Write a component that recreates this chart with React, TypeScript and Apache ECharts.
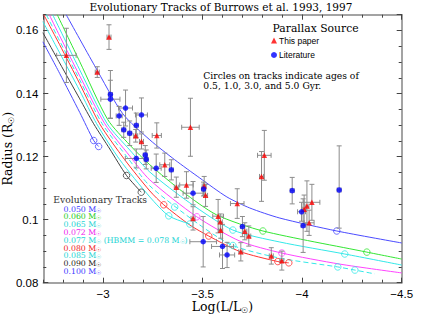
import React, { useEffect, useRef } from "react";
import * as echarts from "echarts";

// ---------- data ----------
const trackMasses = ["0.050", "0.060", "0.065", "0.072", "0.077", "0.080", "0.085", "0.090", "0.100"];

// [log(L/Lsun), R/Rsun]
const track050 = [[-2.815, 0.165], [-2.958, 0.1488], [-3.099, 0.1336], [-3.235, 0.1253], [-3.36, 0.119], [-3.486, 0.1132], [-3.622, 0.1072], [-3.737, 0.1037], [-3.888, 0.1005], [-4.174, 0.0964], [-4.5, 0.0926]];
const track060 = [[-2.77, 0.165], [-2.883, 0.1501], [-3.024, 0.1317], [-3.134, 0.1237], [-3.235, 0.1174], [-3.401, 0.1088], [-3.571, 0.1015], [-3.803, 0.0964], [-4.325, 0.0897], [-4.5, 0.0875]];
const track065 = [[-2.747, 0.165], [-2.782, 0.1605], [-2.883, 0.1475], [-3.021, 0.1304], [-3.134, 0.1221], [-3.235, 0.1151], [-3.436, 0.1053], [-3.652, 0.0967], [-3.888, 0.0929], [-4.214, 0.0891], [-4.5, 0.0856]];
const track072 = [[-2.73, 0.165], [-2.782, 0.1583], [-2.883, 0.1456], [-3.009, 0.1304], [-3.134, 0.1202], [-3.235, 0.1126], [-3.471, 0.1009], [-3.687, 0.0932], [-3.898, 0.0894], [-4.189, 0.0859], [-4.5, 0.0831]];
const track077 = [[-2.715, 0.165], [-2.782, 0.1567], [-2.883, 0.1443], [-2.996, 0.1304], [-3.124, 0.1196], [-3.235, 0.1107], [-3.486, 0.0983], [-3.652, 0.0918], [-3.888, 0.0878], [-4.179, 0.085], [-4.265, 0.084], [-4.365, 0.0828]];
const track080 = [[-2.702, 0.165], [-2.782, 0.1555], [-2.883, 0.1431], [-2.983, 0.1304], [-3.109, 0.119], [-3.235, 0.1091], [-3.305, 0.1047], [-3.436, 0.0983], [-3.531, 0.0948], [-3.687, 0.0899], [-3.878, 0.0867], [-3.933, 0.0863]];
const track085 = [[-2.698, 0.1628], [-2.782, 0.1529], [-2.883, 0.1409], [-2.968, 0.1304], [-3.084, 0.119], [-3.235, 0.1072], [-3.33, 0.1012], [-3.436, 0.0986]];
const track090 = [[-2.698, 0.1593], [-2.782, 0.1497], [-2.883, 0.1383], [-2.953, 0.1304], [-3.034, 0.1224], [-3.118, 0.114], [-3.192, 0.1087]];
const track100 = [[-2.698, 0.1564], [-2.782, 0.1464], [-2.883, 0.134], [-2.953, 0.1251], [-2.978, 0.1232]];

// age markers (0.5, 1.0, 3.0, 5.0 Gyr) on each track
const ages050 = [[-4.174, 0.0964]];
const ages060 = [[-3.803, 0.0964], [-4.325, 0.0897]];
const ages065 = [[-3.652, 0.0967], [-4.214, 0.0891]];
const ages072 = [[-3.471, 0.1009], [-3.898, 0.0894]];
const ages077 = [[-3.36, 0.104], [-3.652, 0.0918], [-4.179, 0.085], [-4.265, 0.084]];
const ages080 = [[-3.305, 0.1047], [-3.531, 0.0948], [-3.878, 0.0867], [-3.933, 0.0863]];
const ages085 = [[-3.33, 0.1012], [-3.436, 0.0986]];
const ages090 = [[-3.118, 0.114], [-3.192, 0.1087]];
const ages100 = [[-2.953, 0.1251], [-2.978, 0.1232]];

// [logL, R, dlogL, dR(low), dR(high, optional)]
const paperPoints = [
  [-2.816, 0.1521, 0.049, 0.0086],
  [-3.03, 0.1579, 0.01, 0.0039],
  [-2.971, 0.1468, 0.01, 0.0017],
  [-3.164, 0.1266, 0.01, 0.002],
  [-3.193, 0.1248, 0.01, 0.0024],
  [-3.27, 0.1267, 0.023, 0.004],
  [-3.31, 0.1174, 0.025, 0.0037],
  [-3.368, 0.1103, 0.01, 0.0032],
  [-3.419, 0.111, 0.034, 0.0042],
  [-3.439, 0.1293, 0.044, 0.0092],
  [-3.508, 0.1107, 0.01, 0.003],
  [-3.515, 0.1077, 0.01, 0.0035],
  [-3.452, 0.1004, 0.01, 0.0037],
  [-3.578, 0.1011, 0.027, 0.0053],
  [-3.589, 0.0993, 0.01, 0.0025],
  [-3.591, 0.0966, 0.01, 0.0025],
  [-3.674, 0.1051, 0.034, 0.0047],
  [-3.712, 0.0963, 0.01, 0.0027],
  [-3.732, 0.0948, 0.01, 0.0032],
  [-3.692, 0.0898, 0.01, 0.0029],
  [-3.81, 0.1204, 0.034, 0.0079],
  [-3.796, 0.1137, 0.01, 0.0079],
  [-3.845, 0.0885, 0.01, 0.0026],
  [-3.898, 0.087, 0.01, 0.003],
  [-4.049, 0.1055, 0.04, 0.0057],
  [-4.024, 0.1043, 0.01, 0.008],
  [-4.01, 0.1033, 0.01, 0.0045],
  [-4.035, 0.099, 0.025, 0.004],
];

const literaturePoints = [
  [-3.037, 0.1397, 0.01, 0.0076],
  [-3.037, 0.1382, 0.048, 0.006],
  [-3.113, 0.1354, 0.035, 0.0057],
  [-3.081, 0.1329, 0.015, 0.003],
  [-3.193, 0.1332, 0.03, 0.0054],
  [-3.104, 0.1285, 0.01, 0.0024],
  [-3.134, 0.1274, 0.01, 0.0039],
  [-3.167, 0.1299, 0.01, 0.0039],
  [-3.167, 0.1194, 0.055, 0.003],
  [-3.212, 0.1205, 0.01, 0.003],
  [-3.217, 0.1191, 0.01, 0.003],
  [-3.267, 0.1163, 0.025, 0.0045],
  [-3.343, 0.1158, 0.01, 0.0032],
  [-3.452, 0.1084, 0.05, 0.0037],
  [-3.505, 0.1097, 0.01, 0.0022],
  [-3.503, 0.093, 0.067, 0.008],
  [-3.6, 0.0915, 0.055, 0.007],
  [-3.623, 0.0888, 0.038, 0.004],
  [-3.7, 0.0978, 0.01, 0.0032],
  [-3.95, 0.1092, 0.01, 0.0042],
  [-4.186, 0.1094, 0.01, 0.0121, 0.014],
  [-3.997, 0.1025, 0.02, 0.003],
  [-4.005, 0.0981, 0.01, 0.0085],
];

const tracks = [track050, track060, track065, track072, track077, track080, track085, track090, track100];
const ages = [ages050, ages060, ages065, ages072, ages077, ages080, ages085, ages090, ages100];

// ---------- styles ----------
const SERIF = "'DejaVu Serif', 'Liberation Serif', serif";
const SANS = "'Liberation Sans', Arial, sans-serif";
const TRACK_COLORS = ["#4b4bff", "#33e633", "#33e8e8", "#ff44ff", "#33e8e8", "#ff3030", "#33e8e8", "#404040", "#4b4bff"];
const LABEL_COLORS = ["#3b3bff", "#22cc22", "#22d4d4", "#ee22ee", "#22d4d4", "#ee2222", "#22d4d4", "#222222", "#3b3bff"];
const ERR_COLOR = "#8c8c8c";

function errorBars(pts: number[][]) {
  return {
    type: "custom",
    silent: true,
    z: 3,
    clip: true,
    data: pts.map((p) => [p[0], p[1], p[2], p[3], p.length > 4 ? p[4] : p[3]]),
    encode: { x: 0, y: 1 },
    renderItem: (_params: any, api: any) => {
      const L = api.value(0);
      const R = api.value(1);
      const dL = api.value(2);
      const lo = api.value(3);
      const hi = api.value(4);
      const c = api.coord([L, R]);
      const t = api.coord([L, R + hi]);
      const b = api.coord([L, R - lo]);
      const l = api.coord([L - dL, R]);
      const r = api.coord([L + dL, R]);
      const cap = 2.5;
      const st = { stroke: ERR_COLOR, lineWidth: 1 };
      const ln = (x1: number, y1: number, x2: number, y2: number) => ({ type: "line", shape: { x1, y1, x2, y2 }, style: st });
      return {
        type: "group",
        children: [
          ln(c[0], t[1], c[0], b[1]),
          ln(c[0] - cap, t[1], c[0] + cap, t[1]),
          ln(c[0] - cap, b[1], c[0] + cap, b[1]),
          ln(l[0], c[1], r[0], c[1]),
          ln(l[0], c[1] - cap, l[0], c[1] + cap),
          ln(r[0], c[1] - cap, r[0], c[1] + cap),
        ],
      };
    },
  };
}

const fmtY = (v: number) => v.toFixed(2).replace(/0$/, "");
const fmtX = (v: number) => String(+v.toFixed(1)).replace("-", "\u2212");

export default function App() {
  const ref = useRef<HTMLDivElement>(null);
  useEffect(() => {
    if (!ref.current) return;
    const chart = echarts.init(ref.current, undefined, { renderer: "svg" });
    const subRich = { s: { fontSize: 8, lineHeight: 7, verticalAlign: "bottom", fontFamily: SERIF, color: "#000" } };
    const axisLineStyle = { color: "#858585", width: 1.5 };
    const tickStyle = { color: "#444", width: 1 };
    const xBase = { type: "value", min: -4.5, max: -2.7, inverse: true, splitLine: { show: false } };
    const yBase = { type: "value", min: 0.08, max: 0.165, splitLine: { show: false } };

    const xAxes = [
      {
        ...xBase, position: "bottom", interval: 0.5,
        name: "Log(L/L{s|\u2609})", nameLocation: "middle", nameGap: 16, nameMoveOverlap: false,
        nameTextStyle: { fontFamily: SERIF, fontSize: 12.5, color: "#000", lineHeight: 16, rich: subRich },
        axisLine: { onZero: false, lineStyle: axisLineStyle },
        axisTick: { inside: true, length: 5, lineStyle: tickStyle },
        axisLabel: { formatter: fmtX, showMaxLabel: false, margin: 5, fontFamily: SANS, fontSize: 11.5, color: "#000" },
      },
      {
        ...xBase, position: "bottom", interval: 0.1,
        axisLine: { show: false }, axisTick: { inside: true, length: 3, lineStyle: tickStyle }, axisLabel: { show: false },
      },
      {
        ...xBase, position: "top", interval: 0.5,
        axisLine: { onZero: false, lineStyle: axisLineStyle }, axisTick: { inside: true, length: 5, lineStyle: tickStyle }, axisLabel: { show: false },
      },
      {
        ...xBase, position: "top", interval: 0.1,
        axisLine: { show: false }, axisTick: { inside: true, length: 3, lineStyle: tickStyle }, axisLabel: { show: false },
      },
    ];
    const yAxes = [
      {
        ...yBase, position: "left", interval: 0.02,
        name: "Radius (R{s|\u2609})", nameLocation: "middle", nameGap: 28, nameRotate: 90, nameMoveOverlap: false,
        nameTextStyle: { fontFamily: SERIF, fontSize: 12.5, color: "#000", lineHeight: 16, rich: subRich },
        axisLine: { onZero: false, lineStyle: axisLineStyle },
        axisTick: { inside: true, length: 5, lineStyle: tickStyle },
        axisLabel: { formatter: fmtY, showMaxLabel: false, margin: 5, fontFamily: SANS, fontSize: 11.5, color: "#000" },
      },
      {
        ...yBase, position: "left", interval: 0.005,
        axisLine: { show: false }, axisTick: { inside: true, length: 3, lineStyle: tickStyle }, axisLabel: { show: false },
      },
      {
        ...yBase, position: "right", interval: 0.02,
        axisLine: { onZero: false, lineStyle: axisLineStyle }, axisTick: { inside: true, length: 5, lineStyle: tickStyle }, axisLabel: { show: false },
      },
      {
        ...yBase, position: "right", interval: 0.005,
        axisLine: { show: false }, axisTick: { inside: true, length: 3, lineStyle: tickStyle }, axisLabel: { show: false },
      },
    ];

    const trackSeries = tracks.map((d, i) => ({
      type: "line",
      data: d,
      showSymbol: false,
      smooth: 0.25,
      silent: true,
      z: 2,
      lineStyle: { color: TRACK_COLORS[i], width: 1, type: i === 4 ? [5, 3] : "solid" },
      itemStyle: { color: TRACK_COLORS[i] },
    }));
    const ageSeries = ages.map((d, i) => ({
      type: "scatter",
      data: d,
      symbol: "circle",
      symbolSize: 6.5,
      silent: true,
      z: 2,
      itemStyle: { color: "rgba(0,0,0,0)", borderColor: TRACK_COLORS[i], borderWidth: 1 },
    }));

    const labelY0 = 209;
    const labelDy = 7.8;
    const trackLabels = trackMasses.map((m, i) => ({
      type: "text",
      x: 63.5,
      y: labelY0 + i * labelDy,
      style: {
        text: i === 4 ? `${m} M{s|\u2609} (HBMM = 0.078 M{s|\u2609})` : `${m} M{s|\u2609}`,
        fill: LABEL_COLORS[i],
        fontFamily: SERIF,
        fontSize: 7.8,
        lineHeight: 9,
        verticalAlign: "middle",
        align: "left",
        rich: { s: { fontSize: 5.5, lineHeight: 4, verticalAlign: "bottom", fill: LABEL_COLORS[i], fontFamily: SERIF } },
      },
    }));

    chart.setOption({
      animation: false,
      backgroundColor: "#fff",
      grid: { left: 43.3, right: 25.3, top: 14.7, bottom: 36.3, containLabel: false, outerBoundsMode: "none" },
      xAxis: xAxes,
      yAxis: yAxes,
      legend: {
        data: ["This paper", "Literature"],
        orient: "vertical",
        left: 266,
        top: 31,
        itemWidth: 6,
        itemHeight: 6,
        itemGap: 5.5,
        selectedMode: false,
        textStyle: { fontFamily: SANS, fontSize: 8.5, color: "#000", padding: [0, 0, 0, -3] },
      },
      graphic: [
        { type: "text", x: 221, y: 7, style: { text: "Evolutionary Tracks of Burrows et al. 1993, 1997", fontFamily: SERIF, fontSize: 10.5, fill: "#000", align: "center", verticalAlign: "middle" } },
        { type: "text", x: 272.5, y: 28, style: { text: "Parallax Source", fontFamily: SERIF, fontSize: 10.8, fill: "#000", align: "left", verticalAlign: "middle" } },
        { type: "text", x: 203.3, y: 75, style: { text: "Circles on tracks indicate ages of", fontFamily: SERIF, fontSize: 9.2, fill: "#000", align: "left", verticalAlign: "middle" } },
        { type: "text", x: 203.3, y: 85.5, style: { text: "0.5, 1.0, 3.0, and 5.0 Gyr.", fontFamily: SERIF, fontSize: 9.2, fill: "#000", align: "left", verticalAlign: "middle" } },
        { type: "text", x: 53.3, y: 199.5, style: { text: "Evolutionary Tracks", fontFamily: SERIF, fontSize: 9.2, fill: "#333", align: "left", verticalAlign: "middle" } },
        ...trackLabels,
      ],
      series: [
        ...trackSeries,
        ...ageSeries,
        errorBars(literaturePoints),
        errorBars(paperPoints),
        {
          type: "scatter",
          name: "This paper",
          data: paperPoints.map((p) => [p[0], p[1]]),
          symbol: "triangle",
          symbolSize: 5.5,
          z: 5,
          itemStyle: { color: "#ff0000" },
        },
        {
          type: "scatter",
          name: "Literature",
          data: literaturePoints.map((p) => [p[0], p[1]]),
          symbol: "circle",
          symbolSize: 5.5,
          z: 5,
          itemStyle: { color: "#0000ff" },
        },
      ],
    });
    return () => chart.dispose();
  }, []);
  return <div ref={ref} style={{ position: "fixed", left: 0, top: 0, width: 427, height: 319 }} />;
}
